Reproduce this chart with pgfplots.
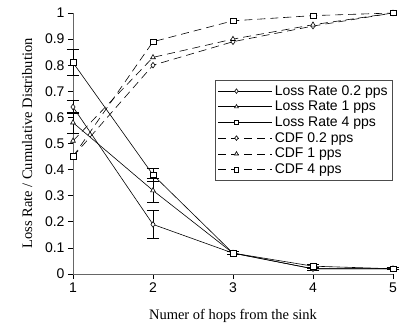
\documentclass[border=0pt]{standalone}
\usepackage{pgfplots}
\pgfplotsset{compat=1.18}
\usepackage{fontspec}
\setmainfont{Liberation Serif}
\newfontfamily\arial{Liberation Sans}
\begin{document}
\begin{tikzpicture}
\begin{axis}[name=ax,
  scale only axis, width=320bp, height=261bp,
  xmin=1, xmax=5, ymin=0, ymax=1,
  axis lines=left, axis line style={black!60, line width=0.8pt, -},
  xtick={1,2,3,4,5}, ytick={0,0.1,...,1.01},
  tick style={black, line width=0.8pt},
  tick align=outside, major tick length=5bp,
  ticklabel style={font=\arial\fontsize{14bp}{16bp}\selectfont},
  /pgf/number format/assume math mode=true,
  yticklabel style={/pgf/number format/.cd, fixed, precision=1},
  xlabel={Numer of hops from the sink},
  ylabel={Loss Rate / Cumulative Distribution},
  label style={font=\fontsize{14.5bp}{16bp}\selectfont},
  xlabel style={yshift=-10bp},
  ylabel style={yshift=6bp},
  clip=false,
  every axis plot/.append style={black, line width=0.6pt, mark size=2.8bp, mark options={solid, fill=white}},
  legend style={at={(1,0.743)}, anchor=north east, draw=black!70, line width=0.8pt,
    font=\arial\fontsize{14bp}{16bp}\selectfont, row sep=0.5bp, inner xsep=3bp, inner ysep=3bp, cells={anchor=west}},
  legend image code/.code={\draw[mark repeat=2, mark phase=2, mark size=2.3bp, #1] plot coordinates {(0bp,0bp) (18bp,0bp) (54bp,0bp)};},
  error bars/error bar style={black, line width=0.8pt},
  error bars/error mark options={rotate=90, mark size=6bp, line width=0.8pt},
]
\addplot[mark=diamond*, error bars/.cd, y dir=both, y explicit] coordinates {
 (1,0.64) +- (0,0.025) (2,0.19) +- (0,0.052) (3,0.08) +- (0,0.006) (4,0.02) +- (0,0.006) (5,0.02) +- (0,0.004)};
\addlegendentry{Loss Rate 0.2 pps}
\addplot[mark=triangle*, error bars/.cd, y dir=both, y explicit] coordinates {
 (1,0.58) +- (0,0.04) (2,0.32) +- (0,0.045) (3,0.08) +- (0,0.006) (4,0.02) +- (0,0.006) (5,0.02) +- (0,0.004)};
\addlegendentry{Loss Rate 1 pps}
\addplot[mark=square*, error bars/.cd, y dir=both, y explicit] coordinates {
 (1,0.81) +- (0,0.05) (2,0.38) +- (0,0.025) (3,0.08) +- (0,0.006) (4,0.03) +- (0,0.008) (5,0.02) +- (0,0.004)};
\addlegendentry{Loss Rate 4 pps}
\addplot[dashed, dash pattern=on 8bp off 5bp, mark=diamond*] coordinates {
 (1,0.45) (2,0.80) (3,0.89) (4,0.95) (5,1.0)};
\addlegendentry{CDF 0.2 pps}
\addplot[dashed, dash pattern=on 8bp off 5bp, mark=triangle*] coordinates {
 (1,0.51) (2,0.83) (3,0.90) (4,0.955) (5,1.0)};
\addlegendentry{CDF 1 pps}
\addplot[dashed, dash pattern=on 8bp off 5bp, mark=square*] coordinates {
 (1,0.45) (2,0.89) (3,0.97) (4,0.99) (5,1.0)};
\addlegendentry{CDF 4 pps}
\end{axis}
\pgfresetboundingbox
\path ([shift={(-73bp,-57bp)}]ax.south west) rectangle ([shift={(11bp,13bp)}]ax.north east);
\end{tikzpicture}
\end{document}
